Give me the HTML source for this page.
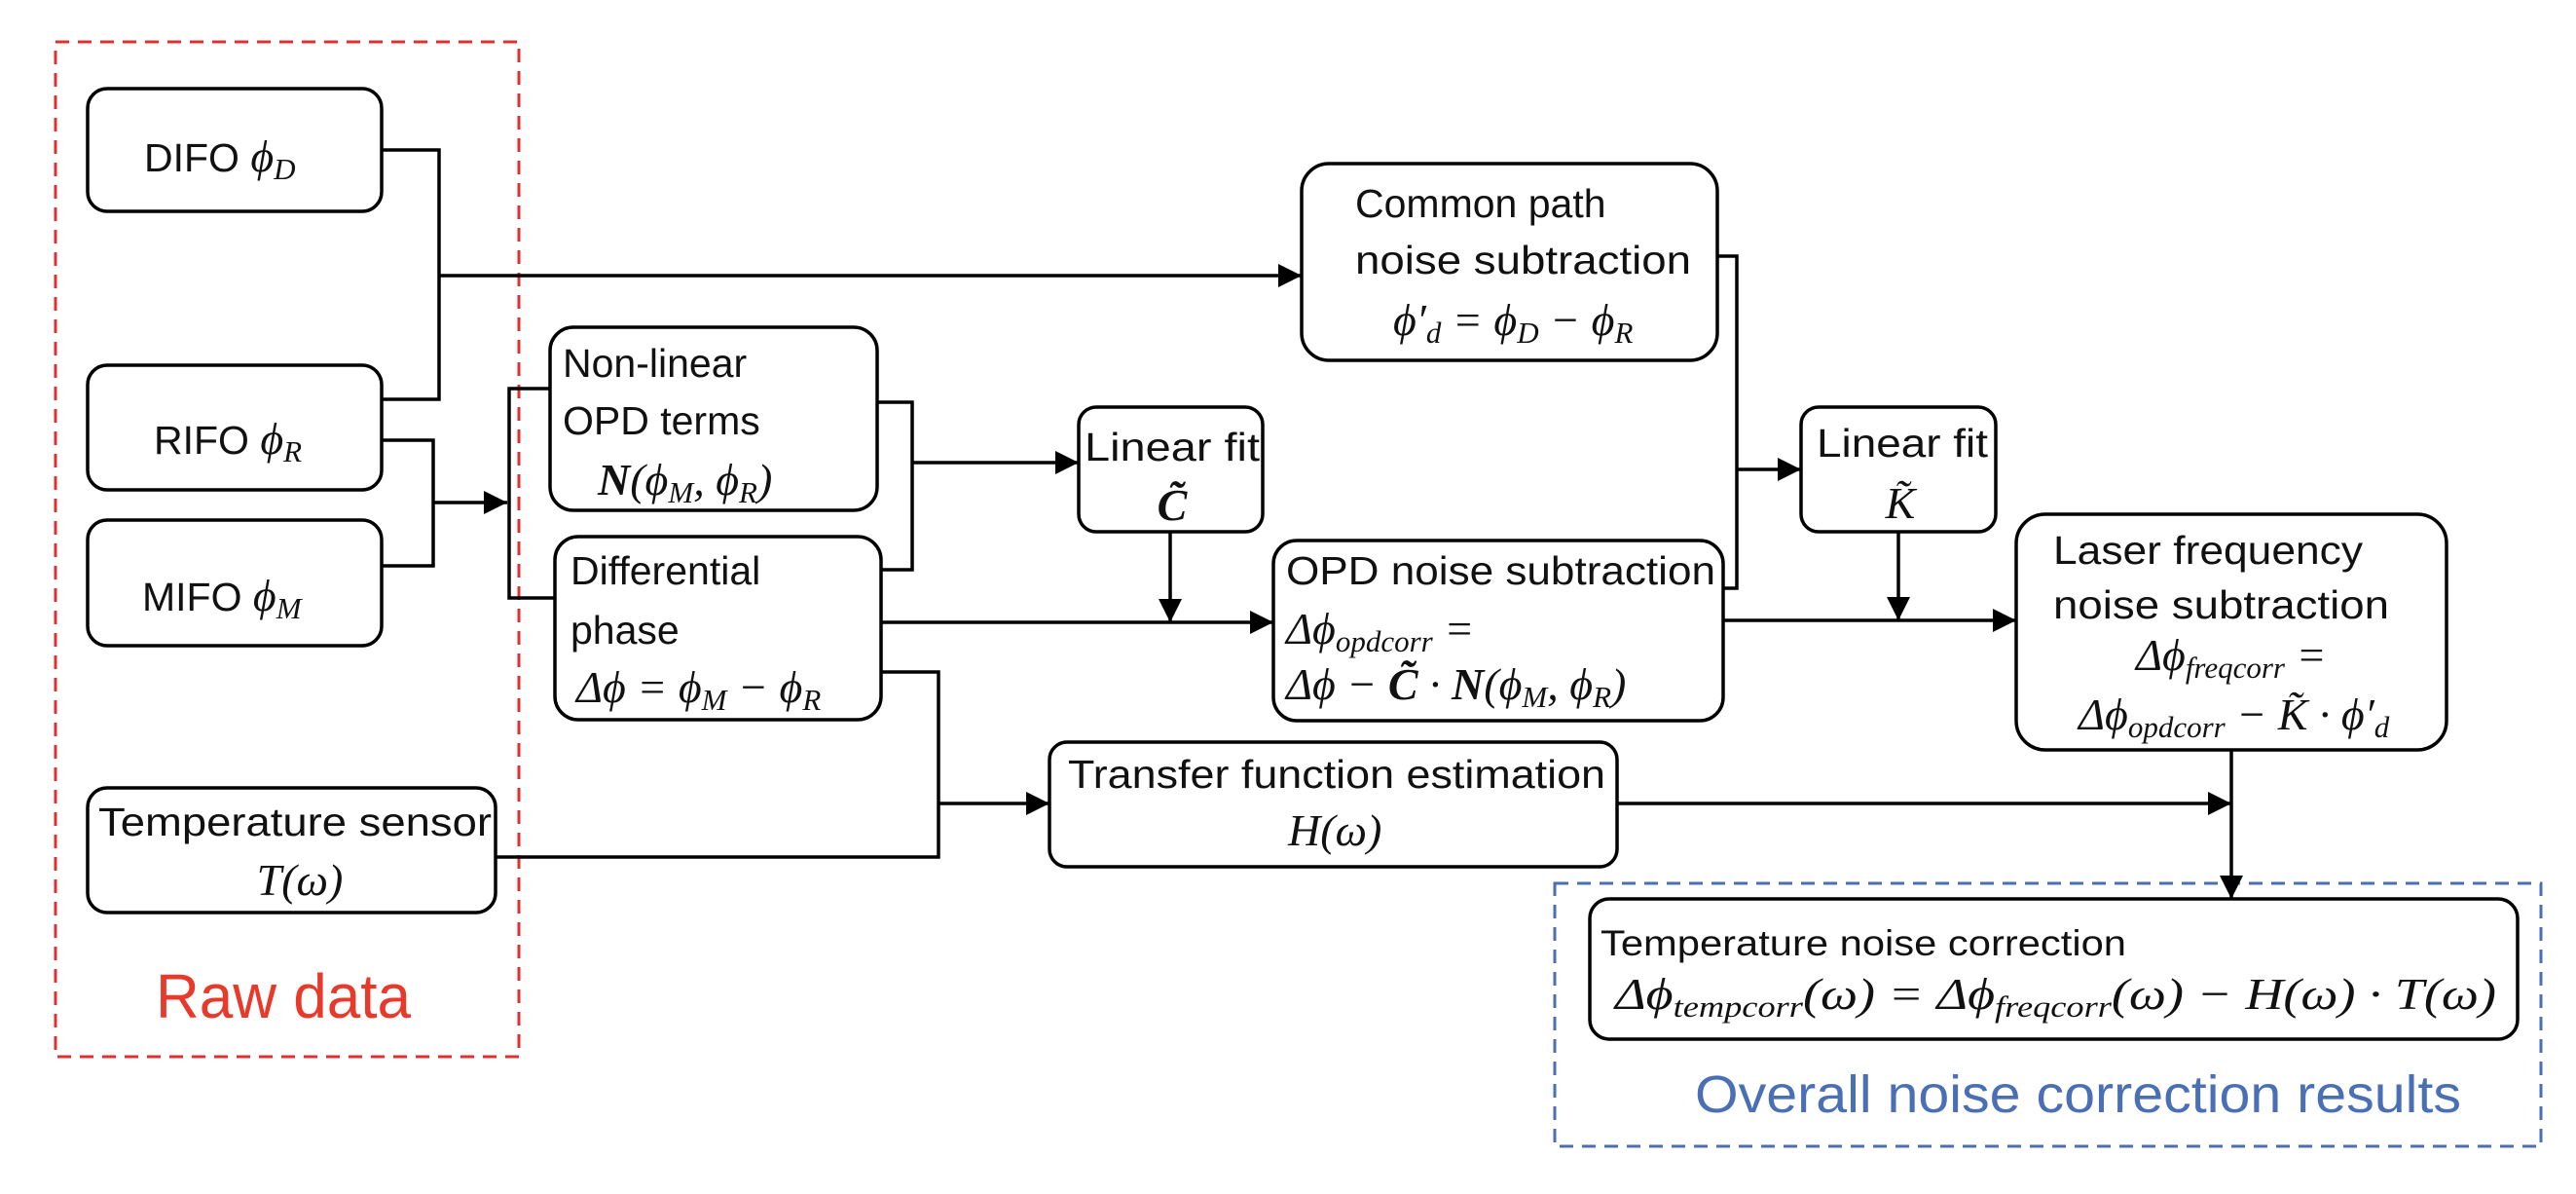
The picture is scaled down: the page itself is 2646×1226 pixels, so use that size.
<!DOCTYPE html>
<html><head><meta charset="utf-8"><style>
html,body{margin:0;padding:0;background:#fff;}
svg{display:block;}
text{font-family:"Liberation Sans",sans-serif;font-size:41px;fill:#111;}
.m{font-family:"Liberation Serif",serif;font-style:italic;font-size:46px;}
.s{font-size:31px;}
</style></head><body>
<svg width="2646" height="1226" viewBox="0 0 2646 1226" xmlns="http://www.w3.org/2000/svg">
<defs>
<marker id="ah" viewBox="0 0 10 10" refX="10" refY="5" markerWidth="28" markerHeight="24" orient="auto" markerUnits="userSpaceOnUse"><path d="M0,0 L10,5 L0,10z" fill="#000"/></marker></defs>
<rect x="57" y="43" width="476" height="1042" fill="none" stroke="#e03030" stroke-width="3" stroke-dasharray="14,9"/>
<rect x="1597" y="907" width="1013" height="270" fill="none" stroke="#4a6fb5" stroke-width="3" stroke-dasharray="14,9"/>
<g fill="none" stroke="#000" stroke-width="3.5">
<rect x="90" y="91" width="302" height="126" rx="20"/>
<rect x="90" y="375" width="302" height="128" rx="20"/>
<rect x="90" y="534" width="302" height="129" rx="20"/>
<rect x="90" y="809" width="419" height="128" rx="20"/>
<rect x="565" y="336" width="336" height="188" rx="24"/>
<rect x="570" y="551" width="335" height="188" rx="24"/>
<rect x="1108" y="418" width="189" height="128" rx="18"/>
<rect x="1078" y="762" width="583" height="128" rx="18"/>
<rect x="1337" y="168" width="427" height="202" rx="28"/>
<rect x="1850" y="418" width="200" height="128" rx="18"/>
<rect x="1308" y="555" width="462" height="185" rx="24"/>
<rect x="2071" y="528" width="442" height="242" rx="30"/>
<rect x="1633" y="923" width="953" height="144" rx="20"/>
<path d="M392,154 H451 V410 H392"/>
<path d="M451,283 H1337" marker-end="url(#ah)"/>
<path d="M392,452 H445 V581 H392"/>
<path d="M445,516 H521" marker-end="url(#ah)"/>
<path d="M565,399 H523 V614 H570"/>
<path d="M901,413 H937 V585 H905"/>
<path d="M937,475 H1108" marker-end="url(#ah)"/>
<path d="M905,639 H1308" marker-end="url(#ah)"/>
<path d="M1202,546 V639" marker-end="url(#ah)"/>
<path d="M905,690 H964 V880 H509"/>
<path d="M964,825 H1078" marker-end="url(#ah)"/>
<path d="M1764,263 H1784 V604 H1770"/>
<path d="M1784,482 H1850" marker-end="url(#ah)"/>
<path d="M1770,637 H2071" marker-end="url(#ah)"/>
<path d="M1950,546 V637" marker-end="url(#ah)"/>
<path d="M1661,825 H2292" marker-end="url(#ah)"/>
<path d="M2292,770 V923" marker-end="url(#ah)"/>
</g>
<text x="148" y="176">DIFO <tspan class="m">ϕ<tspan class="s" dy="8">D</tspan></tspan></text>
<text x="158" y="466">RIFO <tspan class="m">ϕ<tspan class="s" dy="8">R</tspan></tspan></text>
<text x="146" y="627">MIFO <tspan class="m">ϕ<tspan class="s" dy="8">M</tspan></tspan></text>
<text x="101" y="858" textLength="404" lengthAdjust="spacingAndGlyphs">Temperature sensor</text>
<text x="308" y="919" text-anchor="middle" class="m">T(ω)</text>
<text x="578" y="387">Non-linear</text>
<text x="578" y="446">OPD terms</text>
<text x="614" y="508" class="m"><tspan font-weight="bold">N</tspan>(ϕ<tspan class="s" dy="8">M</tspan><tspan dy="-8">, ϕ</tspan><tspan class="s" dy="8">R</tspan><tspan dy="-8">)</tspan></text>
<text x="586" y="600">Differential</text>
<text x="586" y="661">phase</text>
<text x="592" y="721" class="m">Δϕ = ϕ<tspan class="s" dy="8">M</tspan><tspan dy="-8"> − ϕ</tspan><tspan class="s" dy="8">R</tspan></text>
<text x="1114" y="473" textLength="180" lengthAdjust="spacingAndGlyphs">Linear fit</text>
<text x="1204" y="534" text-anchor="middle" class="m" font-weight="bold">C̃</text>
<text x="1097" y="809" textLength="552" lengthAdjust="spacingAndGlyphs">Transfer function estimation</text>
<text x="1323" y="868" class="m">H(ω)</text>
<text x="1392" y="223">Common path</text>
<text x="1392" y="281" textLength="345" lengthAdjust="spacingAndGlyphs">noise subtraction</text>
<text x="1431" y="344" class="m">ϕ′<tspan class="s" dy="8">d</tspan><tspan dy="-8"> = ϕ</tspan><tspan class="s" dy="8">D</tspan><tspan dy="-8"> − ϕ</tspan><tspan class="s" dy="8">R</tspan></text>
<text x="1866" y="469" textLength="176" lengthAdjust="spacingAndGlyphs">Linear fit</text>
<text x="1952" y="532" text-anchor="middle" class="m">K̃</text>
<text x="1321" y="600" textLength="441" lengthAdjust="spacingAndGlyphs">OPD noise subtraction</text>
<text x="1321" y="661" class="m">Δϕ<tspan class="s" dy="8">opdcorr</tspan><tspan dy="-8"> =</tspan></text>
<text x="1321" y="718" class="m">Δϕ − <tspan font-weight="bold">C̃</tspan> · <tspan font-weight="bold">N</tspan>(ϕ<tspan class="s" dy="8">M</tspan><tspan dy="-8">, ϕ</tspan><tspan class="s" dy="8">R</tspan><tspan dy="-8">)</tspan></text>
<text x="2109" y="579" textLength="318" lengthAdjust="spacingAndGlyphs">Laser frequency</text>
<text x="2109" y="635" textLength="345" lengthAdjust="spacingAndGlyphs">noise subtraction</text>
<text x="2194" y="688" class="m">Δϕ<tspan class="s" dy="8">freqcorr</tspan><tspan dy="-8"> =</tspan></text>
<text x="2135" y="749" class="m">Δϕ<tspan class="s" dy="8">opdcorr</tspan><tspan dy="-8"> − K̃ · ϕ′</tspan><tspan class="s" dy="8">d</tspan></text>
<text x="1644" y="981" style="font-size:37px" textLength="540" lengthAdjust="spacingAndGlyphs">Temperature noise correction</text>
<text x="1659" y="1036" class="m" textLength="905" lengthAdjust="spacingAndGlyphs">Δϕ<tspan class="s" dy="8">tempcorr</tspan><tspan dy="-8">(ω) = Δϕ</tspan><tspan class="s" dy="8">freqcorr</tspan><tspan dy="-8">(ω) − H(ω) · T(ω)</tspan></text>
<text x="291" y="1045" text-anchor="middle" style="font-size:64px;fill:#e83a2a" textLength="262" lengthAdjust="spacingAndGlyphs">Raw data</text>
<text x="1741" y="1142" style="font-size:54px;fill:#4a6fb5" textLength="787" lengthAdjust="spacingAndGlyphs">Overall noise correction results</text>
</svg>
</body></html>
